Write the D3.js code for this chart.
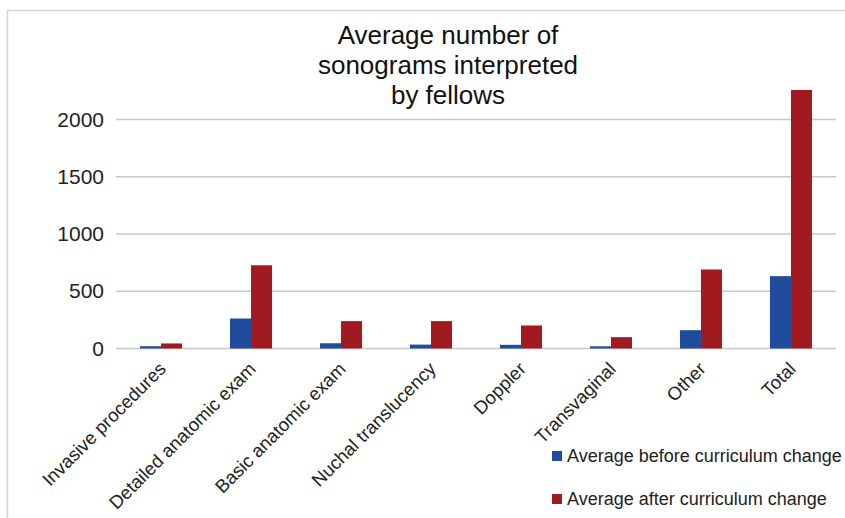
<!DOCTYPE html>
<html><head><meta charset="utf-8">
<script src="https://cdn.jsdelivr.net/npm/d3@7"></script>
<style>body{margin:0;background:#fff;}svg{display:block;font-family:"Liberation Sans",Arial,sans-serif;}</style>
</head><body>
<svg id="chart" width="845" height="518"></svg>
<script>
const categories = ["Invasive procedures","Detailed anatomic exam","Basic anatomic exam","Nuchal translucency","Doppler","Transvaginal","Other","Total"];
const before = [20, 262, 46, 34, 32, 19, 160, 632];
const after = [44, 727, 239, 239, 201, 99, 690, 2258];
const seriesNames = ["Average before curriculum change","Average after curriculum change"];
const seriesColors = ["#1f4c9d","#a11a1f"];
const yTicks = [0, 500, 1000, 1500, 2000];
const titleLines = ["Average number of","sonograms interpreted","by fellows"];

const svg = d3.select("#chart");
const W = 845, H = 518;
const left = 116, right = 836, y0 = 348.5, yTop = 119.5;

// frame
svg.append("rect").attr("x",7.5).attr("y",10.5).attr("width",W).attr("height",H)
  .attr("fill","none").attr("stroke","#d4d4d4").attr("stroke-width",1.5);

const x = d3.scaleBand().domain(categories).range([left,right]).paddingInner(0.533).paddingOuter(0.267);
const xs = d3.scaleBand().domain([0,1]).range([0,x.bandwidth()]);
const y = d3.scaleLinear().domain([0,2000]).range([y0,yTop]);

// gridlines
svg.append("g").selectAll("line").data(yTicks).join("line")
  .attr("x1",left).attr("x2",right).attr("y1",d=>y(d)).attr("y2",d=>y(d))
  .attr("stroke","#c8c8c8").attr("stroke-width",1.5);

// y axis labels
const yAxis = d3.axisLeft(y).tickValues(yTicks).tickSize(0).tickPadding(12).tickFormat(d3.format("d"));
const ga = svg.append("g").attr("transform",`translate(${left},0)`).call(yAxis);
ga.select(".domain").remove();
ga.selectAll("text").attr("font-size",21).attr("fill","#222").attr("font-family","Liberation Sans, Arial, sans-serif");

// bars
const data = categories.map((c,i)=>({c, v:[before[i], after[i]]}));
const g = svg.append("g");
[0,1].forEach(s=>{
  g.selectAll(".b"+s).data(data).join("rect").attr("class","b"+s)
    .attr("x",d=>x(d.c)+xs(s)).attr("width",xs.bandwidth())
    .attr("y",d=>y(d.v[s])).attr("height",d=>y0-y(d.v[s]))
    .attr("fill",seriesColors[s]);
});

// x labels
svg.append("g").selectAll("text").data(categories).join("text")
  .attr("transform",d=>`translate(${x(d)+x.bandwidth()/2+6},370) rotate(-45)`)
  .attr("text-anchor","end").attr("font-size",18.5).attr("fill","#222").text(d=>d);

// title
svg.append("g").selectAll("text").data(titleLines).join("text")
  .attr("x",448).attr("y",(d,i)=>44+i*30).attr("text-anchor","middle")
  .attr("font-size",26).attr("fill","#111").text(d=>d);

// legend
const lg = svg.append("g");
const ly = [456, 499];
seriesNames.forEach((n,i)=>{
  lg.append("rect").attr("x",552).attr("y",ly[i]-5).attr("width",10).attr("height",10).attr("fill",seriesColors[i]);
  lg.append("text").attr("x",567).attr("y",ly[i]).attr("dy","0.35em").attr("font-size",18).attr("fill","#222").text(n);
});
</script>
</body></html>
